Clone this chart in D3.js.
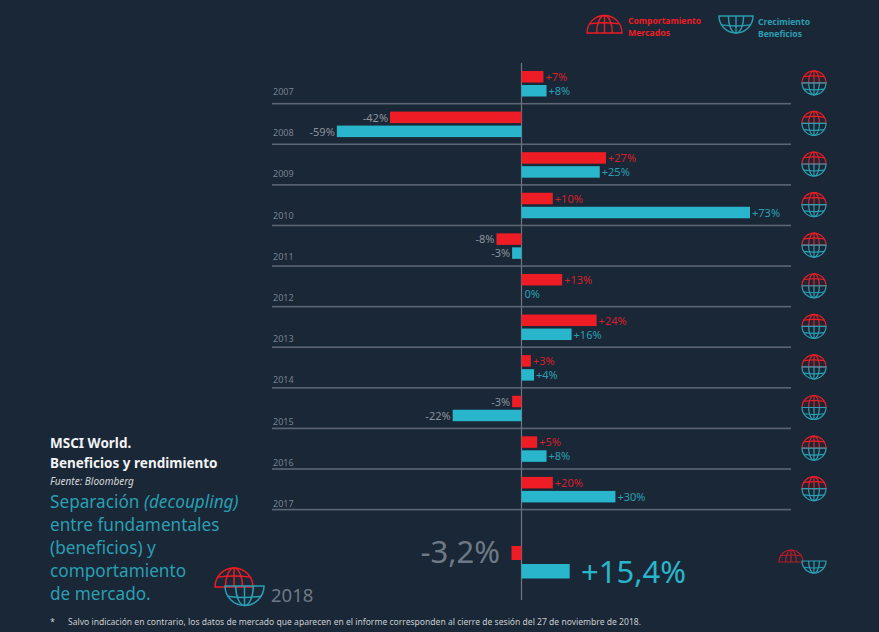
<!DOCTYPE html>
<html><head><meta charset="utf-8">
<script src="https://cdnjs.cloudflare.com/ajax/libs/d3/7.8.5/d3.min.js"></script>
<style>html,body{margin:0;padding:0;background:#1a2736;overflow:hidden}svg{display:block}text{font-family:"Noto Sans",sans-serif}</style>
</head><body><svg id="c" width="879" height="632"></svg>
<script>
const years=["2007","2008","2009","2010","2011","2012","2013","2014","2015","2016","2017"];
const market=[7,-42,27,10,-8,13,24,3,-3,5,10];
const marketLabels=["+7%","-42%","+27%","+10%","-8%","+13%","+24%","+3%","-3%","+5%","+20%"];
const earnings=[8,-59,25,73,-3,0,16,4,-22,8,30];
const earningsLabels=["+8%","-59%","+25%","+73%","-3%","0%","+16%","+4%","-22%","+8%","+30%"];
const market2018=-3.2, earnings2018=15.4;
const titleLines=["MSCI World.","Beneficios y rendimiento"];
const source="Fuente: Bloomberg";
const footnote="Salvo indicación en contrario, los datos de mercado que aparecen en el informe corresponden al cierre de sesión del 27 de noviembre de 2018.";

const BG="#1a2736",RED="#ee1c25",TEAL="#29b6cc",TEALT="#2a9fb3",GREY="#8a929c",RULE="#5c6673",REDT="#d4202a";
const svg=d3.select("#c");
svg.append("rect").attr("width",879).attr("height",632).attr("fill",BG);
const x=d3.scaleLinear().domain([0,73]).range([521.5,750]);
const y=d3.scaleBand().domain(years).range([63.5,510]);
const yLabel=d3.scalePoint().domain(years).range([95,507]);

// rules and year labels
const rows=svg.selectAll("g.row").data(years).join("g").attr("transform",d=>`translate(0,${y(d)})`);
rows.append("rect").attr("x",272).attr("width",519).attr("y",y.step()-1.2).attr("height",1.6).attr("fill",RULE);
svg.selectAll("text.year").data(years).join("text").attr("class","year").attr("x",273).attr("y",d=>yLabel(d)).attr("font-size",9).attr("fill","#77818d").text(d=>d);

// axis
svg.append("line").attr("x1",521.5).attr("x2",521.5).attr("y1",63).attr("y2",600).attr("stroke","#6d7682").attr("stroke-width",1.2);

function bars(vals,labels,off,col,lab){
  const g=svg.append("g");
  vals.forEach((v,i)=>{
    const t=y(years[i])+off;
    if(v!==0) g.append("rect").attr("x",Math.min(x(0),x(v))).attr("width",Math.abs(x(v)-x(0))).attr("y",t).attr("height",11.5).attr("fill",col);
    const neg=v<0;
    g.append("text").attr("x",neg?x(v)-2:(v===0?x(0)+3:x(v)+2)).attr("y",t+10).attr("text-anchor",neg?"end":"start")
      .attr("font-size",11).attr("fill",neg?GREY:lab).text(labels[i]);
  });
}
bars(market,marketLabels,7.5,RED,REDT);
bars(earnings,earningsLabels,21.5,TEAL,TEALT);

// globes
function globe(cx,cy,r,part,col,sw){
  const g=svg.append("g").attr("transform",`translate(${cx},${cy})`).attr("fill","none").attr("stroke",col).attr("stroke-width",sw);
  const s=part==="top"?1:0;
  const sy=part==="top"?-1:1;
  g.append("path").attr("d",`M${-r},0A${r},${r} 0 0 ${s} ${r},0Z`);
  g.append("path").attr("d",`M${-r*.45},0A${r*.45},${r} 0 0 ${s} ${r*.45},0`);
  g.append("path").attr("d",`M0,0V${sy*r}`);
  const h=.52*r,w=Math.sqrt(r*r-h*h);
  g.append("path").attr("d",`M${-w},${sy*h}Q0,${sy*h*(1.25)} ${w},${sy*h}`);
}
globe(604.5,33,17.5,"top",RED,1.4);
globe(736,16,17,"bottom",TEALT,1.4);
years.forEach(d=>{
  const c=y(d)+y.bandwidth()/2-1;
  globe(814,c,12,"top",RED,1.2);
  globe(814,c,12,"bottom",TEALT,1.2);
});
globe(234,587,19,"top",RED,1.5);
globe(244.5,586,19.5,"bottom",TEALT,1.5);
globe(791,562,12,"top","#b81c26",1.2);
globe(814,561,12,"bottom",TEALT,1.2);

// legend text
function legend(px,py,col,l1,w1,l2,w2){
  const a=svg.append("text").attr("x",px).attr("y",py).attr("font-size",8.5).attr("font-weight",700).attr("fill",col)
    .attr("textLength",w1).attr("lengthAdjust","spacingAndGlyphs").text(l1);
  const b=svg.append("text").attr("x",px).attr("y",py+12).attr("font-size",8.5).attr("font-weight",700).attr("fill",col)
    .attr("textLength",w2).attr("lengthAdjust","spacingAndGlyphs").text(l2);
}
legend(628,23.5,RED,"Comportamiento",73,"Mercados",42);
legend(758,24.5,TEALT,"Crecimiento",52,"Beneficios",44);

// 2018 bars
const fmt=v=>(v>0?"+":"")+String(v).replace(".",",")+"%";
svg.append("rect").attr("x",x(market2018)).attr("width",x(0)-x(market2018)).attr("y",546).attr("height",14).attr("fill",RED);
svg.append("rect").attr("x",x(0)).attr("width",x(earnings2018)-x(0)).attr("y",564).attr("height",14.5).attr("fill",TEAL);
svg.append("text").attr("x",500).attr("y",563).attr("text-anchor","end").attr("font-size",31).attr("fill","#6f7985").text(fmt(market2018));
svg.append("text").attr("x",581).attr("y",583).attr("font-size",31).attr("fill",TEAL).text(fmt(earnings2018));

// left block
titleLines.forEach((t,i)=>svg.append("text").attr("x",50).attr("y",448+i*20).attr("font-size",13.5).attr("font-weight",700).attr("fill","#f2f3f4").text(t));
svg.append("text").attr("x",50).attr("y",485).attr("font-size",10).attr("font-style","italic").attr("fill","#d5d8db").text(source);
const sep=svg.append("text").attr("x",50).attr("y",508).attr("font-size",17.2).attr("fill",TEALT);
sep.append("tspan").text("Separación ");
sep.append("tspan").attr("font-style","italic").text("(decoupling)");
["entre fundamentales","(beneficios) y","comportamiento","de mercado."].forEach((t,i)=>
  svg.append("text").attr("x",50).attr("y",531+i*23).attr("font-size",17.2).attr("fill",TEALT).text(t));
svg.append("text").attr("x",271).attr("y",602).attr("font-size",18.5).attr("fill","#6f7985").text("2018");
svg.append("text").attr("x",50).attr("y",625).attr("font-size",9).attr("fill","#c9cdd1").text("*");
svg.append("text").attr("x",68).attr("y",625).attr("font-size",9).attr("fill","#c9cdd1").attr("textLength",573).attr("lengthAdjust","spacingAndGlyphs").text(footnote);
</script></body></html>
